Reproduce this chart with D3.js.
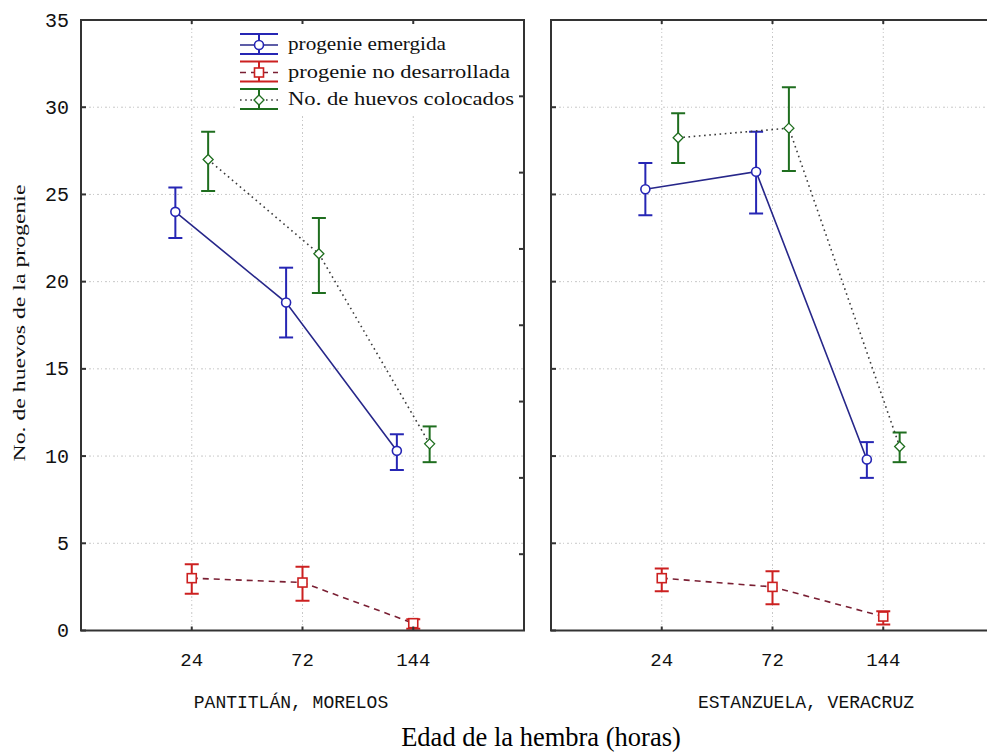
<!DOCTYPE html>
<html>
<head>
<meta charset="utf-8">
<script src="https://cdn.jsdelivr.net/npm/d3@7"></script>
<style>
  html, body { margin: 0; padding: 0; background: #fff; }
  svg { display: block; }
</style>
</head>
<body>
<svg id="chart" width="987" height="753"></svg>
<script>
// Female age (hours) and collection sites
const ages = ["24", "72", "144"];
const sites = ["PANTITLÁN, MORELOS", "ESTANZUELA, VERACRUZ"];
const yTicks = [0, 5, 10, 15, 20, 25, 30, 35];

// Emerged progeny: mean and error-bar limits, one row per site
const emergedMean = [[24.0, 18.8, 10.3], [25.3, 26.3, 9.8]];
const emergedLow  = [[22.5, 16.8, 9.2],  [23.8, 23.9, 8.75]];
const emergedHigh = [[25.4, 20.8, 11.25], [26.8, 28.6, 10.8]];

// Undeveloped progeny
const undevMean = [[3.0, 2.75, 0.42], [3.0, 2.5, 0.8]];
const undevLow  = [[2.1, 1.7, 0.1],   [2.25, 1.5, 0.35]];
const undevHigh = [[3.8, 3.65, 0.65], [3.55, 3.4, 1.1]];

// Eggs laid
const eggsMean = [[27.0, 21.6, 10.7],  [28.25, 28.8, 10.55]];
const eggsLow  = [[25.2, 19.35, 9.65], [26.8, 26.35, 9.65]];
const eggsHigh = [[28.6, 23.65, 11.7], [29.65, 31.15, 11.35]];

const seriesNames = ["progenie emergida", "progenie no desarrollada", "No. de huevos colocados"];

const series = [
  { name: seriesNames[0], mean: emergedMean, low: emergedLow, high: emergedHigh,
    offset: -0.148, bar: "#2626b4", line: "#27278a", dash: null, marker: "circle" },
  { name: seriesNames[1], mean: undevMean, low: undevLow, high: undevHigh,
    offset: 0, bar: "#cc2020", line: "#7a1f33", dash: "6,5", marker: "square" },
  { name: seriesNames[2], mean: eggsMean, low: eggsLow, high: eggsHigh,
    offset: 0.148, bar: "#1f6e1f", line: "#3a3a3a", dash: "1.6,3.6", marker: "diamond" }
];

const svg = d3.select("#chart");
const plotTop = 20, plotBottom = 630.5;
const panelW = 443;
const panelLeft = [81, 551];
// horizontal centres of the site names under each panel
const siteLabelX = [291, 806];

const y = d3.scaleLinear().domain([0, 35]).range([plotBottom, plotTop]);
const frameColor = "#333";
const gridColor = "#c8c8c8";
const monoFont = "'Liberation Mono', 'Courier New', monospace";
const serifFont = "'Liberation Serif', 'Times New Roman', serif";

const defs = svg.append("defs");

sites.forEach((site, p) => {
  const x0 = panelLeft[p], x1 = x0 + panelW;
  const x = d3.scaleLinear().domain([0, 4]).range([x0, x1]);
  const g = svg.append("g");

  // clip region so marks stay inside the frame
  defs.append("clipPath").attr("id", "clip" + p)
    .append("rect").attr("x", x0).attr("y", plotTop).attr("width", panelW).attr("height", plotBottom - plotTop);

  // dotted grid
  g.append("g").selectAll("line").data(yTicks.filter(v => v > 0 && v < 35)).join("line")
    .attr("x1", x0).attr("x2", x1).attr("y1", d => y(d)).attr("y2", d => y(d))
    .attr("stroke", gridColor).attr("stroke-width", 1).attr("stroke-dasharray", "2,2,1,3");
  g.append("g").selectAll("line").data(ages).join("line")
    .attr("x1", (d, i) => x(i + 1)).attr("x2", (d, i) => x(i + 1))
    .attr("y1", plotTop).attr("y2", plotBottom)
    .attr("stroke", gridColor).attr("stroke-width", 1).attr("stroke-dasharray", "2,2,1,3");

  // legend background hides grid under it (first panel only)
  if (p === 0) {
    g.append("rect").attr("x", 236).attr("y", plotTop + 1).attr("width", x1 - 237).attr("height", 94)
      .attr("fill", "#fff");
  }

  const plot = g.append("g").attr("clip-path", `url(#clip${p})`);

  series.forEach(s => {
    const pts = ages.map((a, i) => ({
      x: x(i + 1 + s.offset), m: s.mean[p][i], lo: s.low[p][i], hi: s.high[p][i]
    }));
    // connecting line
    plot.append("path").datum(pts)
      .attr("d", d3.line().x(d => d.x).y(d => y(d.m)))
      .attr("fill", "none").attr("stroke", s.line).attr("stroke-width", 1.6)
      .attr("stroke-dasharray", s.dash);
    // error bars
    const eb = plot.append("g").attr("stroke", s.bar).attr("stroke-width", 2).attr("fill", "none");
    pts.forEach(d => {
      eb.append("line").attr("x1", d.x).attr("x2", d.x).attr("y1", y(d.lo)).attr("y2", y(d.hi));
      eb.append("line").attr("x1", d.x - 7).attr("x2", d.x + 7).attr("y1", y(d.lo)).attr("y2", y(d.lo));
      eb.append("line").attr("x1", d.x - 7).attr("x2", d.x + 7).attr("y1", y(d.hi)).attr("y2", y(d.hi));
    });
    // markers
    pts.forEach(d => drawMarker(plot, s.marker, d.x, y(d.m), s.bar));
  });

  // frame
  g.append("rect").attr("x", x0).attr("y", plotTop).attr("width", panelW).attr("height", plotBottom - plotTop)
    .attr("fill", "none").attr("stroke", frameColor).attr("stroke-width", 2);

  // category ticks, inward at bottom and top
  ages.forEach((a, i) => {
    g.append("line").attr("x1", x(i + 1)).attr("x2", x(i + 1)).attr("y1", plotBottom).attr("y2", plotBottom - 4)
      .attr("stroke", frameColor).attr("stroke-width", 2);
    g.append("line").attr("x1", x(i + 1)).attr("x2", x(i + 1)).attr("y1", plotTop).attr("y2", plotTop + 4)
      .attr("stroke", frameColor).attr("stroke-width", 2);
  });

  // y ticks on the left edge of each panel
  yTicks.forEach(v => {
    g.append("line").attr("x1", x0).attr("x2", x0 + 5).attr("y1", y(v)).attr("y2", y(v))
      .attr("stroke", frameColor).attr("stroke-width", 2);
  });

  // x tick labels
  g.append("g").selectAll("text").data(ages).join("text")
    .attr("x", (d, i) => x(i + 1)).attr("y", 666)
    .attr("text-anchor", "middle")
    .attr("font-family", monoFont)
    .attr("font-size", 19).attr("fill", "#111")
    .text(d => d);

  // site label
  g.append("text").attr("x", siteLabelX[p]).attr("y", 708)
    .attr("text-anchor", "middle")
    .attr("font-family", monoFont)
    .attr("font-size", 18).attr("fill", "#111")
    .text(site);
});

// secondary ticks on the right edge of the first panel
const yRight = d3.scaleLinear().domain([0, 8]).range([plotBottom, plotTop]);
d3.range(1, 8).forEach(k => {
  svg.append("line")
    .attr("x1", panelLeft[0] + panelW).attr("x2", panelLeft[0] + panelW - 5)
    .attr("y1", yRight(k)).attr("y2", yRight(k))
    .attr("stroke", frameColor).attr("stroke-width", 2);
});

// y tick labels
svg.append("g").selectAll("text").data(yTicks).join("text")
  .attr("x", 69).attr("y", d => y(d) + 6.5)
  .attr("text-anchor", "end")
  .attr("font-family", monoFont)
  .attr("font-size", 20).attr("fill", "#111")
  .text(d => d);

// axis titles
svg.append("text")
  .attr("transform", "translate(25,323) rotate(-90)")
  .attr("text-anchor", "middle")
  .attr("font-family", serifFont)
  .attr("font-size", 17).attr("fill", "#111")
  .attr("textLength", 277).attr("lengthAdjust", "spacingAndGlyphs")
  .text("No. de huevos de la progenie");

svg.append("text")
  .attr("x", 541).attr("y", 746)
  .attr("text-anchor", "middle")
  .attr("font-family", serifFont)
  .attr("font-size", 26.5).attr("fill", "#000")
  .text("Edad de la hembra (horas)");

// legend
const legendRows = [45, 72.5, 100];
const legendWidths = [158, 222, 226];
const lg = svg.append("g");
series.forEach((s, i) => {
  const cy = legendRows[i], cx = 259;
  lg.append("line").attr("x1", 240).attr("x2", 278).attr("y1", cy).attr("y2", cy)
    .attr("stroke", s.line).attr("stroke-width", 1.5).attr("stroke-dasharray", s.dash);
  const eb = lg.append("g").attr("stroke", s.bar).attr("stroke-width", 2);
  eb.append("line").attr("x1", cx).attr("x2", cx).attr("y1", cy - 11).attr("y2", cy + 9);
  eb.append("line").attr("x1", 240).attr("x2", 278).attr("y1", cy - 11).attr("y2", cy - 11);
  eb.append("line").attr("x1", 240).attr("x2", 278).attr("y1", cy + 9).attr("y2", cy + 9);
  drawMarker(lg, s.marker, cx, cy, s.bar);
  lg.append("text").attr("x", 288).attr("y", cy + 5)
    .attr("font-family", serifFont)
    .attr("font-size", 18).attr("fill", "#111")
    .attr("textLength", legendWidths[i]).attr("lengthAdjust", "spacingAndGlyphs")
    .text(s.name);
});

function drawMarker(sel, type, cx, cy, color) {
  if (type === "circle") {
    sel.append("circle").attr("cx", cx).attr("cy", cy).attr("r", 4.5)
      .attr("fill", "#fff").attr("stroke", color).attr("stroke-width", 1.6);
  } else if (type === "square") {
    sel.append("rect").attr("x", cx - 4.5).attr("y", cy - 4.5).attr("width", 9).attr("height", 9)
      .attr("fill", "#fff").attr("stroke", color).attr("stroke-width", 1.6);
  } else {
    sel.append("path").attr("d", `M${cx},${cy - 5}L${cx + 5},${cy}L${cx},${cy + 5}L${cx - 5},${cy}Z`)
      .attr("fill", "#fff").attr("stroke", color).attr("stroke-width", 1.3);
  }
}
</script>
</body>
</html>
